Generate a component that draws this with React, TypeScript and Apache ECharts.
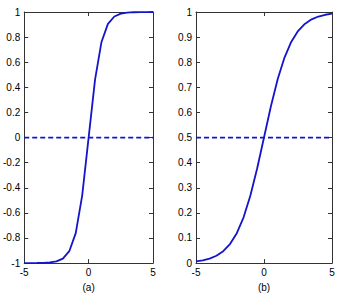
import React, { useEffect, useRef } from "react";
import * as echarts from "echarts";

const xs = [-5, -4.5, -4, -3.5, -3, -2.5, -2, -1.5, -1, -0.5, 0, 0.5, 1, 1.5, 2, 2.5, 3, 3.5, 4, 4.5, 5];
const tanhVals = [-0.9999, -0.9998, -0.9993, -0.9982, -0.9951, -0.9866, -0.964, -0.9051, -0.7616, -0.4621, 0, 0.4621, 0.7616, 0.9051, 0.964, 0.9866, 0.9951, 0.9982, 0.9993, 0.9998, 0.9999];
const sigmoidVals = [0.0067, 0.011, 0.018, 0.0293, 0.0474, 0.0759, 0.1192, 0.1824, 0.2689, 0.3775, 0.5, 0.6225, 0.7311, 0.8176, 0.8808, 0.9241, 0.9526, 0.9707, 0.982, 0.989, 0.9933];
const dashLevelA = 0;
const dashLevelB = 0.5;
const nameA = "(a)";
const nameB = "(b)";

const BLUE = "#1414cc";
const AX = "#333333";
const FONT = "Liberation Sans";

function xAxesFor(gridIndex: number, name: string) {
  const common = {
    gridIndex,
    type: "value" as const,
    min: -5,
    max: 5,
    interval: 5,
    axisLine: { show: true, onZero: false, lineStyle: { color: AX, width: 1 } },
    axisTick: { show: true, inside: true, length: 4, lineStyle: { color: AX } },
    splitLine: { show: false },
  };
  return [
    {
      ...common,
      position: "bottom",
      name,
      nameLocation: "middle",
      nameGap: 15,
      nameTextStyle: { fontFamily: FONT, fontSize: 10, color: "#000" },
      axisLabel: { fontFamily: FONT, fontSize: 10, color: "#000", margin: 4 },
    },
    { ...common, position: "top", axisLabel: { show: false } },
  ];
}

function yAxesFor(gridIndex: number, min: number, max: number, interval: number) {
  const common = {
    gridIndex,
    type: "value" as const,
    min,
    max,
    interval,
    axisLine: { show: true, onZero: false, lineStyle: { color: AX, width: 1 } },
    axisTick: { show: true, inside: true, length: 4, lineStyle: { color: AX } },
    splitLine: { show: false },
  };
  return [
    {
      ...common,
      position: "left",
      axisLabel: { fontFamily: FONT, fontSize: 10, color: "#000", margin: 4 },
    },
    { ...common, position: "right", axisLabel: { show: false } },
  ];
}

export default function App() {
  const ref = useRef<HTMLDivElement>(null);
  useEffect(() => {
    if (!ref.current) return;
    const chart = echarts.init(ref.current, null, { renderer: "svg" });
    const curveA = xs.map((x, i) => [x, tanhVals[i]]);
    const curveB = xs.map((x, i) => [x, sigmoidVals[i]]);
    chart.setOption({
      animation: false,
      backgroundColor: "#fff",
      grid: [
        { left: 18, top: 12, width: 135, height: 255 },
        { left: 196, top: 12, width: 136, height: 255 },
      ],
      xAxis: [...xAxesFor(0, nameA), ...xAxesFor(1, nameB)],
      yAxis: [...yAxesFor(0, -1, 1, 0.2), ...yAxesFor(1, 0, 1, 0.1)],
      series: [
        {
          type: "line",
          xAxisIndex: 0,
          yAxisIndex: 0,
          data: curveA,
          showSymbol: false,
          lineStyle: { color: BLUE, width: 1.8 },
        },
        {
          type: "line",
          xAxisIndex: 0,
          yAxisIndex: 0,
          data: [[-5, dashLevelA], [5, dashLevelA]],
          showSymbol: false,
          lineStyle: { color: BLUE, width: 1.8, type: [5, 3] },
        },
        {
          type: "line",
          xAxisIndex: 2,
          yAxisIndex: 2,
          data: curveB,
          showSymbol: false,
          lineStyle: { color: BLUE, width: 1.8 },
        },
        {
          type: "line",
          xAxisIndex: 2,
          yAxisIndex: 2,
          data: [[-5, dashLevelB], [5, dashLevelB]],
          showSymbol: false,
          lineStyle: { color: BLUE, width: 1.8, type: [5, 3] },
        },
      ],
    });
    return () => chart.dispose();
  }, []);
  return <div ref={ref} style={{ width: 338, height: 297, position: "absolute", left: 0, top: 0 }} />;
}
